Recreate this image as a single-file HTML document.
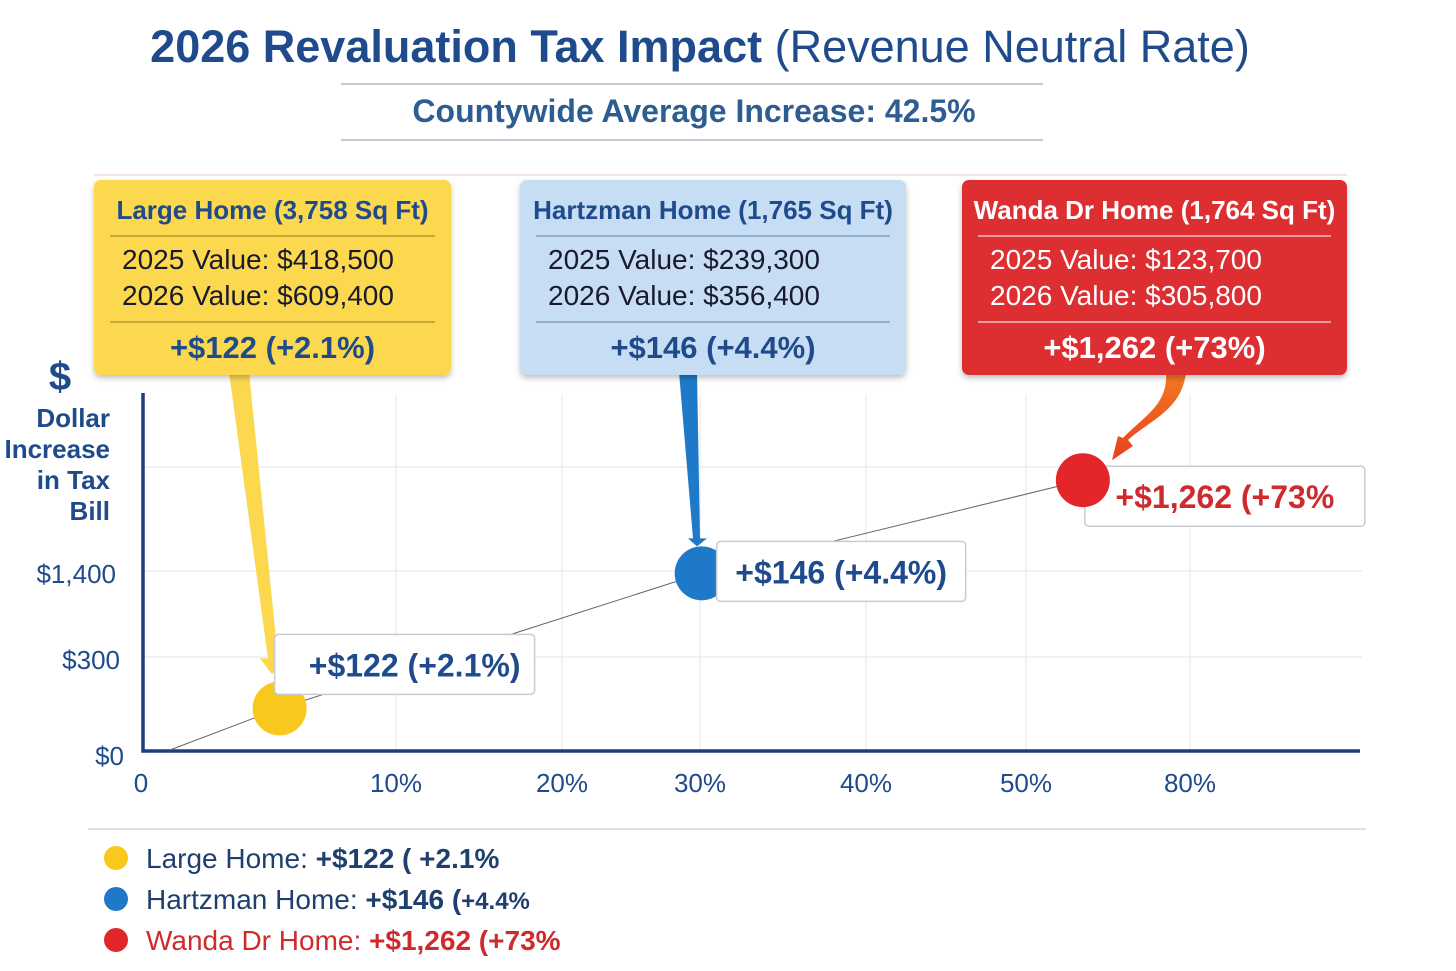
<!DOCTYPE html>
<html><head><meta charset="utf-8"><style>
html,body{margin:0;padding:0;background:#fff;}
svg{display:block;font-family:"Liberation Sans",sans-serif;}
</style></head><body>
<svg id="chart" width="1456" height="971" viewBox="0 0 1456 971">
<defs>
<filter id="sh" x="-10%" y="-10%" width="120%" height="130%"><feDropShadow dx="0" dy="3" stdDeviation="3" flood-opacity="0.25"/></filter>
<linearGradient id="og" x1="0" y1="0" x2="0" y2="1"><stop offset="0" stop-color="#f47a20"/><stop offset="1" stop-color="#e8401f"/></linearGradient>
</defs>
<text x="700" y="62" text-anchor="middle" font-size="45" fill="#1f4b8c"><tspan font-weight="bold">2026 Revaluation Tax Impact</tspan> (Revenue Neutral Rate)</text>
<line x1="341" y1="84" x2="1043" y2="84" stroke="#b0b8c4" stroke-width="1.5"/>
<line x1="341" y1="140" x2="1043" y2="140" stroke="#b0b8c4" stroke-width="1.5"/>
<text x="694" y="122" text-anchor="middle" font-size="32" fill="#2e5d92" font-weight="bold">Countywide Average Increase: 42.5%</text>
<line x1="94" y1="175" x2="1347" y2="175" stroke="#e8c8c8" stroke-width="1"/>
<g id="grid"></g>
<g id="axes"></g>
<g id="marks"></g>
<g id="cards"></g>
<text x="60" y="390" text-anchor="middle" font-size="40" font-weight="bold" fill="#1f4b8c">$</text>
<g font-size="26" font-weight="bold" fill="#1f4b8c" text-anchor="end">
<text x="110" y="427">Dollar</text><text x="110" y="458">Increase</text><text x="110" y="489">in Tax</text><text x="110" y="520">Bill</text>
</g>
<line x1="88" y1="829" x2="1366" y2="829" stroke="#d0d6de" stroke-width="1.5"/>
<g id="legend"></g>
</svg>
<script>
const NS="http://www.w3.org/2000/svg";
// data
const homes=["Large Home","Hartzman Home","Wanda Dr Home"];
const sqft=["3,758","1,765","1,764"];
const value2025=["$418,500","$239,300","$123,700"];
const value2026=["$609,400","$356,400","$305,800"];
const dollarIncrease=[122,146,1262];
const pctIncrease=[2.1,4.4,73];
const xPos=[5.4,30.1,60.4];
const yPos=[136,1370,2360];
const xTicks=[0,10,20,30,40,50,80];
const xTickLabels=["0","10%","20%","30%","40%","50%","80%"];
const yTicks=[0,300,1400,2500];
const yTickLabels=["$0","$300","$1,400",""];
// scale config (piecewise axes as drawn)
const xDom=[0,10,20,30,40,50,80], xRng=[143,396,562,700,866,1026,1190];
const yDom=[0,300,1400,2500], yRng=[751,657,571,467];
function pw(v,d,r){for(let i=0;i<d.length-1;i++){if(v<=d[i+1]||i==d.length-2){return r[i]+(v-d[i])*(r[i+1]-r[i])/(d[i+1]-d[i]);}}}
const X=v=>pw(v,xDom,xRng), Y=v=>pw(v,yDom,yRng);
function mk(t,a,p){const e=document.createElementNS(NS,t);for(const k in a)e.setAttribute(k,a[k]);(p||document.getElementById('marks')).appendChild(e);return e;}
const fmt=v=>"+$"+v.toLocaleString("en-US");
const grid=document.getElementById('grid'),axes=document.getElementById('axes'),marks=document.getElementById('marks'),cards=document.getElementById('cards'),legend=document.getElementById('legend');
xTicks.forEach((t,i)=>{
  if(i>0){const g=mk('line',{x1:X(t),y1:395,x2:X(t),y2:751,stroke:'#e6e9ef','stroke-width':1.2},grid);
  
  }
  const l=mk('text',{x:i==0?X(t)-2:X(t),y:792,'text-anchor':'middle','font-size':26,fill:'#1f4b8c'},axes);l.textContent=xTickLabels[i];
  
  
});
yTicks.forEach((t,i)=>{
  if(i>0){const g=mk('line',{x1:143,y1:Y(t),x2:1362,y2:Y(t),stroke:'#e6e9ef','stroke-width':1.2},grid);
  
  }
  if(yTickLabels[i]){const l=mk('text',{x:i==1?120:(i==0?124:116),y:Y(t)+(i==0?14:12),'text-anchor':'end','font-size':26,fill:'#1f4b8c'},axes);l.textContent=yTickLabels[i];
  
  }
});
const ax=mk('path',{d:'M143 393 V751 H1360',fill:'none',stroke:'#1a3f7a','stroke-width':3.5},axes);


// trend line
let pts=[[170,750]].concat(xPos.map((x,i)=>[X(x),Y(yPos[i])]));
const tl=mk('polyline',{points:pts.map(p=>p.join(',')).join(' '),fill:'none',stroke:'#666','stroke-width':1});


const fills=['#fbd84e','#c6ddf3','#dd2e33'];
const dots=['#f9c81c','#1e79c8','#e3262a'];
const txtC=['#1f4b8c','#1f3f6e','#ffffff'];
const divC=['#c9a83a','#8fb0d0','#f09a9c'];
const boxX=[94,520,962],boxW=[357,386,385];
const labC=['#1f4b8c','#1f4b8c','#cf2a2e'];
const labOff=[[-5,-74,260],[15,-32,249],[2,-14,280]];
homes.forEach((h,i)=>{
  const cx=X(xPos[i]),cy=Y(yPos[i]);
  const bx=boxX[i],bw=boxW[i],mid=bx+bw/2;
  // connector arrows
  let arr;
  if(i==0) arr=mk('path',{d:`M229 372 L249 372 L278 ${cy-50} L286 ${cy-50} L272 ${cy-34} L260 ${cy-50} L268 ${cy-50} Z`,fill:'#fbd84e'});
  else if(i==1) arr=mk('path',{d:`M679 372 L697 372 L700 ${cy-35} L707 ${cy-35} L697 ${cy-27} L688 ${cy-35} L693 ${cy-35} Z`,fill:'#1e79c8'});
  else arr=mk('path',{d:`M1166 372 L1186 372 C1182 410 1150 420 1128 440 L1133 446 L1112 ${cy-20} L1118 436 L1123 438 C1145 415 1168 405 1166 372 Z`,fill:'url(#og)'});
  
  
  // dot
  const d=mk('circle',{cx:cx,cy:cy,r:27,fill:dots[i]});
  
  
  // label box
  const o=labOff[i];
  const lb=mk('rect',{x:cx+o[0],y:cy+o[1],width:o[2],height:60,rx:4,fill:'#fff',stroke:'#c8ccd2','stroke-width':1.5});
  
  
  if(i==2) marks.appendChild(d);
  const lt=mk('text',{x:cx+o[0]+o[2]/2+(i==0?10:0),y:cy+o[1]+42,'text-anchor':'middle','font-size':32,'font-weight':'bold',fill:labC[i]});
  lt.textContent=fmt(dollarIncrease[i])+" (+"+pctIncrease[i]+"%"+(i==2?"":")");
  
  
  // card
  const g=mk('g',{},cards);
  
  
  mk('rect',{x:bx,y:180,width:bw,height:195,rx:7,fill:fills[i],filter:'url(#sh)'},g);
  const t1=mk('text',{x:mid,y:219,'text-anchor':'middle','font-size':26,'font-weight':'bold',fill:i==2?'#fff':'#1f4b8c'},g);t1.textContent=h+" ("+sqft[i]+" Sq Ft)";
  mk('line',{x1:bx+16,y1:236,x2:bx+bw-16,y2:236,stroke:divC[i],'stroke-width':2},g);
  const t2=mk('text',{x:bx+28,y:269,'font-size':28,fill:i==2?'#fff':'#1a1a2e'},g);t2.textContent="2025 Value: "+value2025[i];
  const t3=mk('text',{x:bx+28,y:305,'font-size':28,fill:i==2?'#fff':'#1a1a2e'},g);t3.textContent="2026 Value: "+value2026[i];
  mk('line',{x1:bx+16,y1:322,x2:bx+bw-16,y2:322,stroke:divC[i],'stroke-width':2},g);
  const t4=mk('text',{x:mid,y:358,'text-anchor':'middle','font-size':31,'font-weight':'bold',fill:i==2?'#fff':'#1f4b8c'},g);t4.textContent=fmt(dollarIncrease[i])+" (+"+pctIncrease[i]+"%)";
  // legend
  const ly=858+i*41;
  const lg=mk('g',{},legend);
  
  
  mk('circle',{cx:116,cy:ly,r:12,fill:dots[i]},lg);
  const tx=mk('text',{x:146,y:ly+10,'font-size':28,fill:i==2?'#cf2a2e':'#1f3f6e'},lg);
  const s1=mk('tspan',{},tx);s1.textContent=h+": ";
  const s2=mk('tspan',{'font-weight':'bold',fill:i==2?'#cf2a2e':'#1f3f6e'},tx);s2.textContent=fmt(dollarIncrease[i])+" (";
  const s3=mk('tspan',{'font-weight':'bold','font-size':i==1?24:28},tx);s3.textContent=(i==0?" ":"")+"+"+pctIncrease[i]+"%";
});
</script>
</body></html>
